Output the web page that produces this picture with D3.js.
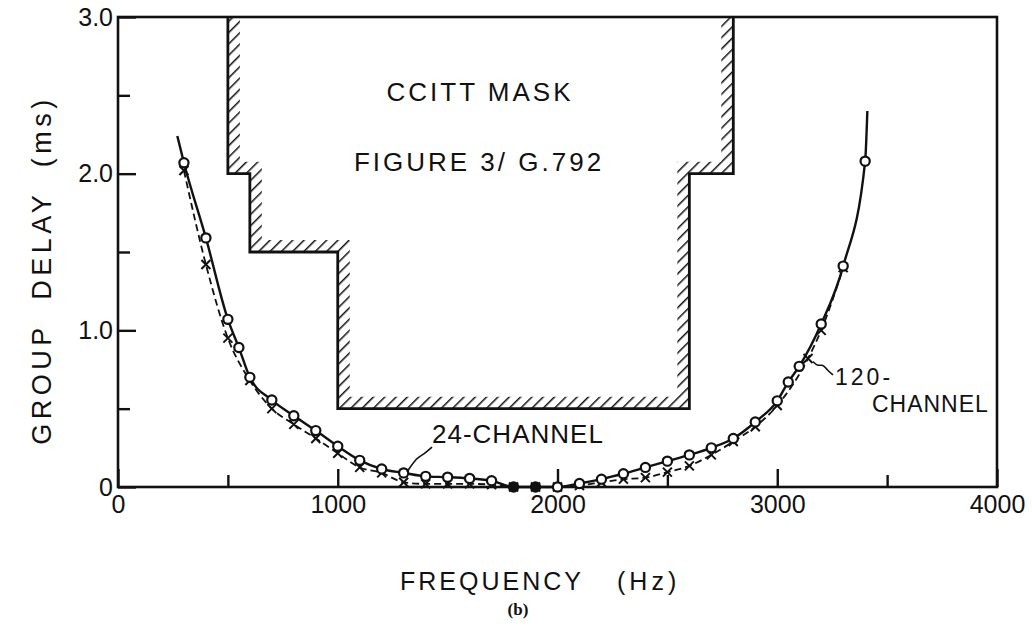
<!DOCTYPE html>
<html>
<head>
<meta charset="utf-8">
<script src="https://cdn.jsdelivr.net/npm/d3@7"></script>
<style>
  html, body { margin: 0; padding: 0; background: #fff; }
  svg { display: block; }
  text { font-family: "Liberation Sans", Arial, sans-serif; fill: #111; }
</style>
</head>
<body>
<svg id="chart" width="1032" height="627"></svg>
<script>
// ---- data ----
const xTicksMajor = [0, 1000, 2000, 3000, 4000];
const xTicksMinor = [500, 1500, 2500, 3500];
const yTicksMajor = [0, 1, 2, 3];
const yTicksMinor = [0.5, 1.5, 2.5];
const yTickLabels = ["0", "1.0", "2.0", "3.0"];

// CCITT mask outline (Figure 3/G.792)
const maskFreq  = [500, 500, 600, 600, 1000, 1000, 2600, 2600, 2800, 2800];
const maskDelay = [3.0, 2.0, 2.0, 1.5, 1.5, 0.5, 0.5, 2.0, 2.0, 3.0];

// 24-channel (solid, circles)
const freq24  = [300, 400, 500, 550, 600, 700, 800, 900, 1000, 1100, 1200, 1300, 1400, 1500, 1600, 1700, 1800, 1900, 2000, 2100, 2200, 2300, 2400, 2500, 2600, 2700, 2800, 2900, 3000, 3050, 3100, 3200, 3300, 3400];
const delay24 = [2.07, 1.59, 1.07, 0.89, 0.70, 0.555, 0.455, 0.36, 0.26, 0.17, 0.115, 0.09, 0.068, 0.063, 0.055, 0.04, 0.0, 0.0, 0.0, 0.022, 0.05, 0.085, 0.125, 0.165, 0.205, 0.25, 0.31, 0.415, 0.55, 0.67, 0.77, 1.04, 1.41, 2.08];
const lineStart24 = [270, 2.24];
const lineEnd24   = [3410, 2.40];

// 120-channel (dashed, crosses)
const freq120  = [300, 400, 500, 600, 700, 800, 900, 1000, 1100, 1200, 1300, 1400, 1500, 1600, 1700, 1800, 1900, 2000, 2100, 2200, 2300, 2400, 2500, 2600, 2700, 2800, 2900, 3000, 3140, 3200, 3300];
const delay120 = [2.02, 1.42, 0.95, 0.68, 0.50, 0.40, 0.31, 0.215, 0.125, 0.09, 0.03, 0.02, 0.02, 0.02, 0.015, 0.0, 0.0, 0.0, 0.01, 0.03, 0.05, 0.06, 0.095, 0.135, 0.205, 0.29, 0.385, 0.52, 0.82, 1.0, 1.40];

// annotation leaders (data coords)
const leader24Freq  = [1429, 1388, 1361, 1315];
const leader24Delay = [0.255, 0.204, 0.19, 0.096];
const leader120Freq  = [3163, 3185, 3208, 3226, 3254];
const leader120Delay = [0.80, 0.77, 0.785, 0.747, 0.715];

// ---- drawing ----
const svg = d3.select("#chart");
const x = d3.scaleLinear().domain([0, 4000]).range([118, 997]);
const y = d3.scaleLinear().domain([0, 3]).range([487, 17]);

const defs = svg.append("defs");
const pat = defs.append("pattern")
  .attr("id", "hatch").attr("patternUnits", "userSpaceOnUse")
  .attr("width", 8).attr("height", 8)
  .attr("patternTransform", "rotate(45)");
pat.append("line").attr("x1", 0).attr("y1", 0).attr("x2", 0).attr("y2", 8)
  .attr("stroke", "#111").attr("stroke-width", 3);

defs.append("clipPath").attr("id", "plotclip").append("rect")
  .attr("x", x(0)).attr("y", y(3)).attr("width", x(4000) - x(0)).attr("height", y(0) - y(3));

// frame
svg.append("rect")
  .attr("x", x(0)).attr("y", y(3)).attr("width", x(4000) - x(0)).attr("height", y(0) - y(3))
  .attr("fill", "none").attr("stroke", "#111").attr("stroke-width", 2.6);

// axes
function styleAxis(g) {
  g.select(".domain").remove();
  g.selectAll(".tick line").attr("stroke", "#111").attr("stroke-width", 2.4);
  g.selectAll(".tick text").attr("font-size", 25).attr("fill", "#111")
    .style("font-family", "'Liberation Sans', Arial, sans-serif");
}
svg.append("g").attr("transform", `translate(0,${y(0)})`)
  .call(d3.axisBottom(x).tickValues(xTicksMajor).tickSizeInner(-18).tickSizeOuter(0).tickPadding(8).tickFormat(d3.format("d")))
  .call(styleAxis);
svg.append("g").attr("transform", `translate(0,${y(0)})`)
  .call(d3.axisBottom(x).tickValues(xTicksMinor).tickSizeInner(-12).tickSizeOuter(0).tickFormat(""))
  .call(styleAxis);
svg.append("g").attr("transform", `translate(${x(0)},0)`)
  .call(d3.axisLeft(y).tickValues(yTicksMajor).tickSizeInner(-18).tickSizeOuter(0).tickPadding(5)
        .tickFormat((d, i) => yTickLabels[i]))
  .call(styleAxis);
svg.append("g").attr("transform", `translate(${x(0)},0)`)
  .call(d3.axisLeft(y).tickValues(yTicksMinor).tickSizeInner(-12).tickSizeOuter(0).tickFormat(""))
  .call(styleAxis);

// mask
const band = 12;
const outer = maskFreq.map((f, i) => [x(f), y(maskDelay[i])]);
const inner = maskFreq.map((f, i) => [
  x(f) + (f < 1800 ? band : -band),
  y(maskDelay[i]) - (maskDelay[i] >= 3 ? 0 : band)
]);
const bandPoly = outer.concat(inner.slice().reverse());
const gMask = svg.append("g").attr("clip-path", "url(#plotclip)");
gMask.append("path").attr("d", "M" + bandPoly.map(p => p.join(",")).join("L") + "Z")
  .attr("fill", "url(#hatch)");
gMask.append("path").attr("d", d3.line()(outer))
  .attr("fill", "none").attr("stroke", "#111").attr("stroke-width", 2.8).attr("stroke-linejoin", "miter");

// mask text
svg.append("text").attr("x", 480).attr("y", 101).attr("text-anchor", "middle")
  .attr("font-size", 26).attr("letter-spacing", 3).text("CCITT MASK");
svg.append("text").attr("x", 479).attr("y", 171).attr("text-anchor", "middle")
  .attr("font-size", 26).attr("letter-spacing", 3).text("FIGURE 3/ G.792");

// curves
const line = d3.line().x(d => x(d[0])).y(d => y(d[1])).curve(d3.curveMonotoneX);
const pts120 = freq120.map((f, i) => [f, delay120[i]]);
const pts24 = freq24.map((f, i) => [f, delay24[i]]);

svg.append("path").attr("d", line(pts120))
  .attr("fill", "none").attr("stroke", "#111").attr("stroke-width", 1.8).attr("stroke-dasharray", "7,4");
svg.append("path").attr("d", line([lineStart24].concat(pts24, [lineEnd24])))
  .attr("fill", "none").attr("stroke", "#111").attr("stroke-width", 2.4);

// cross markers
const s = 4.5;
svg.append("g").selectAll("path").data(pts120).join("path")
  .attr("d", d => {
    const cx = x(d[0]), cy = y(d[1]);
    return `M${cx - s},${cy - s}L${cx + s},${cy + s}M${cx - s},${cy + s}L${cx + s},${cy - s}`;
  })
  .attr("stroke", "#111").attr("stroke-width", 2).attr("fill", "none");

// circle markers
svg.append("g").selectAll("circle").data(pts24).join("circle")
  .attr("cx", d => x(d[0])).attr("cy", d => y(d[1])).attr("r", 4.6)
  .attr("fill", d => d[1] === 0 && d[0] < 2000 ? "#111" : "#fff")
  .attr("stroke", "#111").attr("stroke-width", 2.2);

// annotations
const lineLin = d3.line().x(d => x(d[0])).y(d => y(d[1])).curve(d3.curveBasis);
svg.append("path").attr("d", lineLin(leader24Freq.map((f, i) => [f, leader24Delay[i]])))
  .attr("fill", "none").attr("stroke", "#111").attr("stroke-width", 1.6);
svg.append("path").attr("d", lineLin(leader120Freq.map((f, i) => [f, leader120Delay[i]])))
  .attr("fill", "none").attr("stroke", "#111").attr("stroke-width", 1.6);

svg.append("text").attr("x", x(1429)).attr("y", y(0.28))
  .attr("font-size", 26).attr("letter-spacing", 1).text("24-CHANNEL");
svg.append("text").attr("x", x(3263)).attr("y", y(0.65))
  .attr("font-size", 23).attr("letter-spacing", 3).text("120-");
svg.append("text").attr("x", x(3431)).attr("y", y(0.48))
  .attr("font-size", 23).attr("letter-spacing", 1).text("CHANNEL");

// axis titles
svg.append("text").attr("x", 400).attr("y", 590)
  .attr("font-size", 25).attr("letter-spacing", 3).text("FREQUENCY");
svg.append("text").attr("x", 617).attr("y", 590)
  .attr("font-size", 25).attr("letter-spacing", 4).text("(Hz)");
svg.append("text").attr("transform", "translate(51,270) rotate(-90)")
  .attr("text-anchor", "middle").attr("font-size", 27).attr("letter-spacing", 4.5)
  .attr("xml:space", "preserve").text("GROUP  DELAY  (ms)");
svg.append("text").attr("x", 518).attr("y", 615).attr("text-anchor", "middle")
  .style("font-family", "'Liberation Serif', serif").attr("font-weight", "bold")
  .attr("font-size", 17).text("(b)");
</script>
</body>
</html>
